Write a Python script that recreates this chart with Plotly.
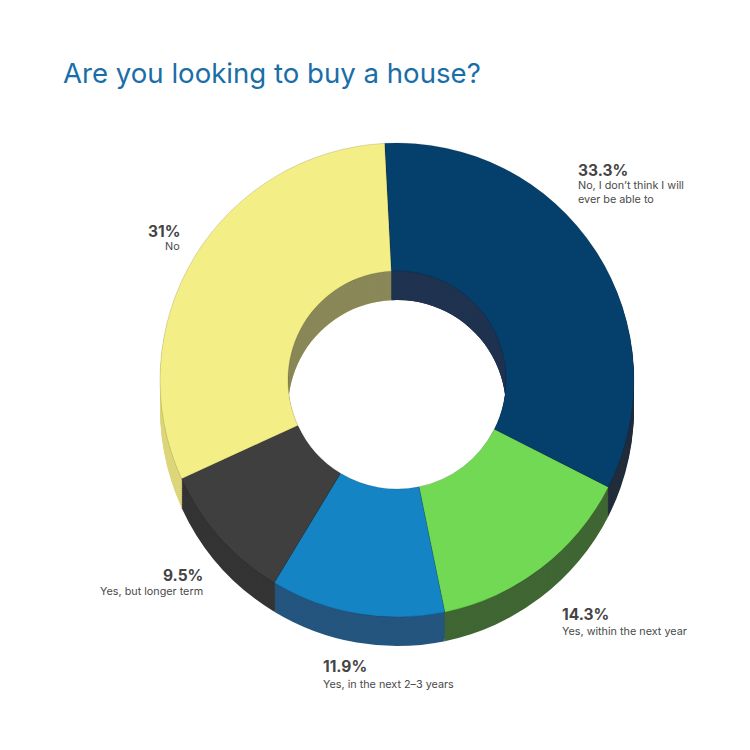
# -*- coding: utf-8 -*-
"""Are you looking to buy a house? -- donut with a fake extruded side."""
import plotly.graph_objects as go

W = H = 750

categories = ["No, I don’t think I will<br>ever be able to", "Yes, within the next year",
              "Yes, in the next 2–3 years", "Yes, but longer term", "No"]
values = [33.3, 14.3, 11.9, 9.5, 31]
value_labels = ["33.3%", "14.3%", "11.9%", "9.5%", "31%"]

TOP_COLORS = ["#053f6b", "#72d955", "#1484c4", "#3f3f3f", "#f3ee86"]
SIDE_COLORS = ["#222d3c", "#3f6633", "#24557f", "#343434", "#ddd67a"]
WALL_COLORS = ["#1f3350", "#3f6633", "#24557f", "#343434", "#8a8758"]

CX, CY = 397, 380     # px, centre of the top face
R = 237
HOLE = 0.46
DEPTH = 29
ROTATION = -3


def dom(cy, r, cx=CX):
    """pixel circle -> paper domain"""
    return dict(x=[(cx - r) / W, (cx + r) / W], y=[1 - (cy + r) / H, 1 - (cy - r) / H])


def ring(cy, r, hole, colors, line=0):
    return go.Pie(values=values, labels=categories, sort=False, direction="clockwise",
                  rotation=ROTATION, hole=hole, domain=dom(cy, r), textinfo="none",
                  marker=dict(colors=colors, line=dict(width=line, color="rgba(0,0,0,0.25)")),
                  showlegend=False, hoverinfo="label+percent")


fig = go.Figure()
# outer side, stacked from the bottom up
for d in range(DEPTH, 0, -2):
    fig.add_trace(ring(CY + d, R, HOLE, SIDE_COLORS))
# inner wall: thin rings only seen through the hole
r_hole = R * HOLE
for d in range(DEPTH, 0, -2):
    fig.add_trace(ring(CY + d, r_hole * 1.3, 1 / 1.3, WALL_COLORS))
fig.add_trace(ring(CY, R, HOLE, TOP_COLORS, line=0.5))

# label anchors in px: x, y of the percentage, y of the caption, anchor
LABEL_POS = [(577, 170, 192, "left"), (561, 614, 631, "left"), (322, 666, 684, "left"),
             (204, 575, 591, "right"), (181, 231, 247, "right")]

for cat, lab, (x, y1, y2, anchor) in zip(categories, value_labels, LABEL_POS):
    fig.add_annotation(x=x / W, y=1 - y1 / H, xref="paper", yref="paper", text=f"<b>{lab}</b>",
                       showarrow=False, xanchor=anchor, yanchor="middle", borderpad=0,
                       font=dict(family="Inter", size=15.5, color="#444444"))
    fig.add_annotation(x=x / W, y=1 - y2 / H, xref="paper", yref="paper", text=cat,
                       showarrow=False, xanchor=anchor, yanchor="middle", align=anchor,
                       borderpad=0, font=dict(family="Inter", size=10.8, color="#4a4a4a"))

fig.add_annotation(x=62 / W, y=1 - 73 / H, xref="paper", yref="paper",
                   text="Are you looking to buy a house?", showarrow=False,
                   xanchor="left", yanchor="middle", borderpad=0,
                   font=dict(family="Inter", size=27.6, color="#1a6ea8"))

fig.update_layout(width=W, height=H, margin=dict(l=0, r=0, t=0, b=0),
                  paper_bgcolor="white", plot_bgcolor="white")
# default page margin would push the chart 8px off
fig.write_html("out.html", config={"displayModeBar": False},
               post_script="document.body.style.margin='0';")
